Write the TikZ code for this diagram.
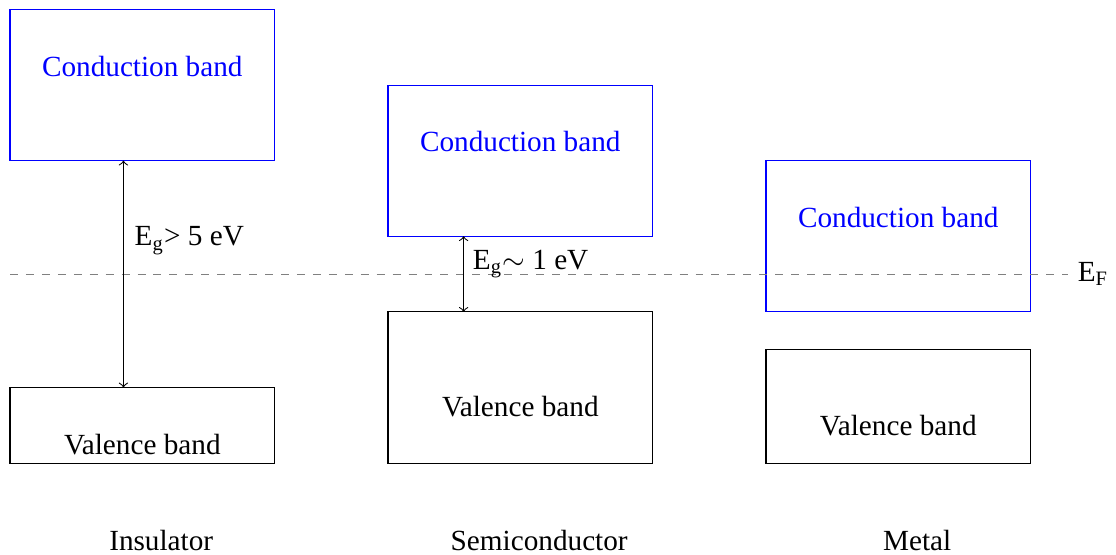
\documentclass[tikz,border=0pt]{standalone}
\usepackage{fontspec}
\setmainfont{Liberation Serif}
\begin{document}
\begin{tikzpicture}[scale=0.5,
	cband/.style={draw,blue},
	vband/.style={draw,black},
	txt/.style={font=\fontsize{11}{13}\selectfont},
	gap/.style={<->,black}]
	\useasboundingbox (-0.265,-2.41) rectangle (29.26,12.25);

		% bands
		\draw[cband](0,8) rectangle (7,12);
		\draw[vband](0,0) rectangle (7,2);
		\draw[cband](10,6) rectangle (17,10);
		\draw[vband](10,0) rectangle (17,4);
		\draw[cband](20,4) rectangle (27,8);
		\draw[vband](20,0) rectangle (27,3);

		% fermi level
		\coordinate (fl) at (0,5);
		\coordinate (fr) at (28,5);
		\draw[dashed,gray](fl)--(fr);
		\node[txt,anchor=west] (ef) at (fr) {E\textsubscript{F}};

		% gaps
		\coordinate (ia) at (3,2);
		\coordinate (ib) at (3,8);
		\coordinate (sa) at (12,4);
		\coordinate (sb) at (12,6);
		\draw[gap](ia)--(ib);
		\draw[gap](sa)--(sb);
		\node[txt,anchor=west] (ig) at (3.05,5.88) {E\textsubscript{g}> 5 eV};
		\node[txt,anchor=west] (sg) at (12,5.27) {E\textsubscript{g}$\sim$ 1 eV};

		\node[txt,blue] (ic) at (3.5,10.5) {Conduction band};
		\node[txt] (iv) at (3.5,0.5) {Valence band};
		\node[txt,blue] (sc) at (13.5,8.5) {Conduction band};
		\node[txt] (sv) at (13.5,1.5) {Valence band};
		\node[txt,blue] (mc) at (23.5,6.5) {Conduction band};
		\node[txt] (mv) at (23.5,1) {Valence band};

		\node[txt] (ins) at (4,-2.04) {Insulator};
		\node[txt] (semi) at (14,-2.04) {Semiconductor};
		\node[txt] (met) at (24,-2.04) {Metal};
	\end{tikzpicture}
\end{document}
